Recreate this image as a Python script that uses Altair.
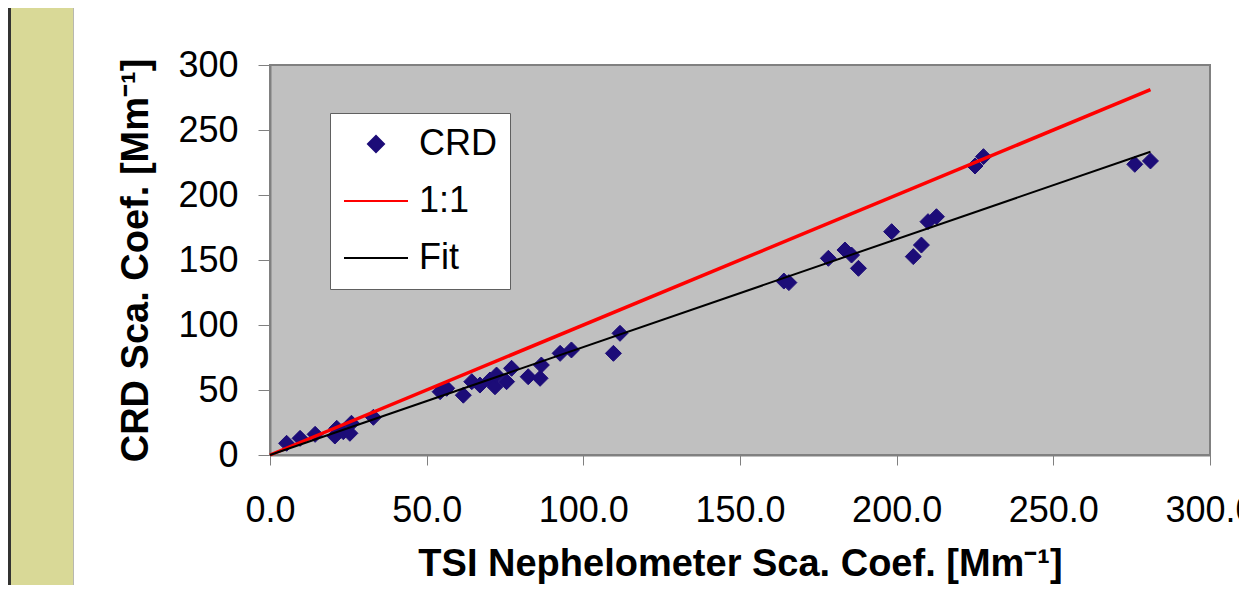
import altair as alt
import pandas as pd

# ---- data ----
tsi = [5.3, 9.6, 14.4, 20.7, 21.3, 23.4, 25.5, 26.0, 33.0,
       54.3, 56.4, 61.7, 64.4, 67.0, 70.2, 71.8, 72.3, 75.5, 77.1,
       82.4, 86.2, 86.6, 92.6, 96.2, 109.6, 111.7,
       164.0, 165.6, 178.2, 183.5, 185.6, 187.8, 198.4, 205.3, 207.9,
       210.0, 212.7, 225.0, 227.7, 276.0, 281.0]
crd = [9.0, 12.8, 15.9, 14.6, 20.5, 17.9, 16.7, 24.4, 29.0,
       48.7, 51.3, 46.0, 56.4, 53.8, 57.7, 52.5, 61.5, 56.4, 66.7,
       60.2, 59.0, 69.2, 78.2, 80.8, 78.2, 93.6,
       133.8, 132.6, 151.3, 157.7, 153.8, 143.6, 171.8, 152.6, 161.5,
       179.5, 183.3, 222.3, 229.5, 223.6, 226.2]

line_x = [0.0, 281.0]
one_to_one_y = [0.0, 281.0]
fit_y = [0.0, 233.3]

series_names = ["CRD", "1:1", "Fit"]
series_colors = ["#1c0c78", "#ff0000", "#000000"]
x_ticks = [0, 50, 100, 150, 200, 250, 300]
y_ticks = [0, 50, 100, 150, 200, 250, 300]

x_title = "TSI Nephelometer Sca. Coef. [Mm⁻¹]"
y_title = "CRD Sca. Coef. [Mm⁻¹]"

FONT = "Liberation Sans"

pts = pd.DataFrame({"tsi": tsi, "crd": crd, "series": ["CRD"] * len(tsi)})
one = pd.DataFrame({"tsi": line_x, "crd": one_to_one_y})
fit = pd.DataFrame({"tsi": line_x, "crd": fit_y})
deco = pd.DataFrame({"d": [0]})

xenc = alt.X("tsi:Q",
             scale=alt.Scale(domain=[0, 300], nice=False),
             axis=alt.Axis(values=x_ticks, format=".1f", title=x_title,
                           tickSize=10, labelPadding=28, titlePadding=17,
                           grid=False, labelFlush=False, labelOverlap=False))
yenc = alt.Y("crd:Q",
             scale=alt.Scale(domain=[0, 300], nice=False),
             axis=alt.Axis(values=y_ticks, format="d", title=y_title,
                           tickSize=12, labelPadding=20, titlePadding=22,
                           grid=False, labelFlush=False, labelOverlap=False))

shape_paths = ["M-0.5,0L0,-0.5L0.5,0L0,0.5Z", "M-2,0H2", "M-2,0H2"]

leg = alt.Legend(title=None, orient="none", legendX=60, legendY=48,
                 fillColor="white", strokeColor="#606060",
                 padding=13, symbolSize=1024, symbolStrokeWidth=2,
                 symbolOffset=15, labelOffset=25, labelFontSize=36,
                 labelFont=FONT, labelColor="black", rowPadding=21,
                 symbolOpacity=1)

points = alt.Chart(pts).mark_point(filled=True, opacity=1, size=1024, strokeWidth=1).encode(
    x=xenc, y=yenc,
    fill=alt.Fill("series:N", scale=alt.Scale(domain=series_names, range=series_colors), legend=leg),
    stroke=alt.Stroke("series:N", scale=alt.Scale(domain=series_names, range=series_colors), legend=leg),
    shape=alt.Shape("series:N", scale=alt.Scale(domain=series_names, range=shape_paths), legend=leg),
)

red_line = alt.Chart(one).mark_line(color=series_colors[1], strokeWidth=3.5).encode(x=xenc, y=yenc)
fit_line = alt.Chart(fit).mark_line(color=series_colors[2], strokeWidth=2).encode(x=xenc, y=yenc)

dark_strip = alt.Chart(deco).mark_rect(color="#333331").encode(
    x=alt.value(-262), x2=alt.value(-259), y=alt.value(-57), y2=alt.value(520))
yellow_strip = alt.Chart(deco).mark_rect(color="#d9d997").encode(
    x=alt.value(-259), x2=alt.value(-197), y=alt.value(-57), y2=alt.value(520))
strip_edge = alt.Chart(deco).mark_rect(color="#b8b8b0").encode(
    x=alt.value(-197), x2=alt.value(-196), y=alt.value(-57), y2=alt.value(520))

chart = alt.layer(dark_strip, yellow_strip, strip_edge, points, red_line, fit_line).properties(
    width=940, height=390,
    autosize=alt.AutoSizeParams(type="none"),
    padding={"left": 262, "top": 57, "right": 29, "bottom": 130},
    background="white",
).configure_view(
    fill="#c0c0c0", stroke="#808080", strokeWidth=2
).configure_axis(
    domainColor="#808080", domainWidth=2, tickColor="#808080", tickWidth=1,
    labelFont=FONT, labelFontSize=36, labelColor="black",
    titleFont=FONT, titleFontSize=38, titleFontWeight="bold", titleColor="black",
)

chart.save("out.html", embed_options={"renderer": "svg", "actions": False})
